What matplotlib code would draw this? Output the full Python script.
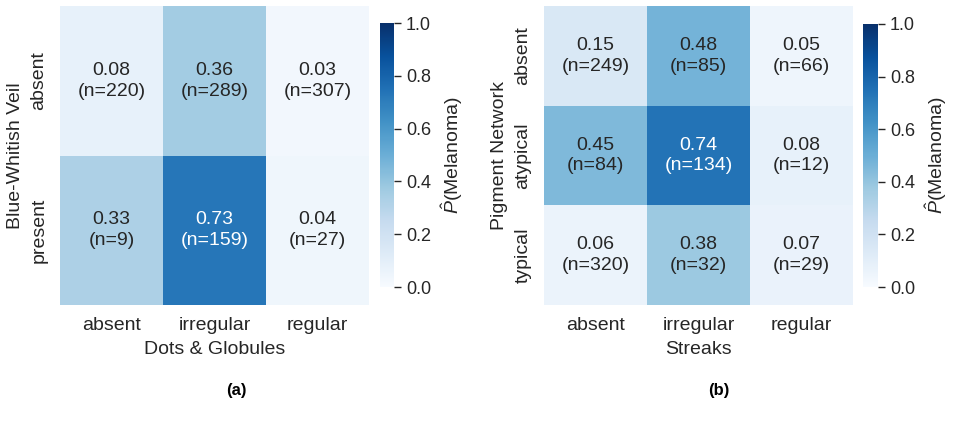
import numpy as np
import matplotlib
matplotlib.use("Agg")
import matplotlib.pyplot as plt
import seaborn as sns

# panel (a)
dg_cols = ["absent", "irregular", "regular"]
bwv_rows = ["absent", "present"]
prob_a = [[0.08, 0.36, 0.03],
          [0.33, 0.73, 0.04]]
n_a = [[220, 289, 307],
       [9, 159, 27]]

# panel (b)
st_cols = ["absent", "irregular", "regular"]
pn_rows = ["absent", "atypical", "typical"]
prob_b = [[0.15, 0.48, 0.05],
          [0.45, 0.74, 0.08],
          [0.06, 0.38, 0.07]]
n_b = [[249, 85, 66],
       [84, 134, 12],
       [320, 32, 29]]

sns.set_theme(style="ticks")
plt.rcParams["font.family"] = ["Liberation Sans", "DejaVu Sans"]
plt.rcParams["mathtext.fontset"] = "custom"
plt.rcParams["mathtext.it"] = "Liberation Sans:italic"
plt.rcParams["mathtext.rm"] = "Liberation Sans"

W, H = 954, 425
fig = plt.figure(figsize=(W / 100, H / 100), dpi=100)


def px(x0, y0, x1, y1):
    return [x0 / W, 1 - y1 / H, (x1 - x0) / W, (y1 - y0) / H]


def panel(ax, cax, prob, n, rows, cols, xlabel, ylabel):
    prob = np.array(prob)
    labels = np.array([["%.2f\n(n=%d)" % (p, c) for p, c in zip(pr, nr)]
                       for pr, nr in zip(prob, n)])
    sns.heatmap(prob, ax=ax, cbar_ax=cax, cmap="Blues", vmin=0, vmax=1,
                annot=labels, fmt="", annot_kws={"fontsize": 14, "linespacing": 1.3},
                xticklabels=cols, yticklabels=rows)
    ax.tick_params(length=0, labelsize=14, pad=9)
    ax.set_yticklabels(rows, rotation=90, va="center")
    ax.set_xlabel(xlabel, fontsize=14, labelpad=5)
    ax.set_ylabel(ylabel, fontsize=14, labelpad=5)
    cax.tick_params(labelsize=13, length=5, width=1, color="#262626")
    cax.set_ylabel(r"$\hat{P}$(Melanoma)", fontsize=14, labelpad=6)
    cax.set_yticks([0, 0.2, 0.4, 0.6, 0.8, 1.0])
    for s in cax.spines.values():
        s.set_visible(False)


ax1 = fig.add_axes(px(60, 6, 369, 305))
cax1 = fig.add_axes(px(380, 23, 394, 287))
panel(ax1, cax1, prob_a, n_a, bwv_rows, dg_cols, "Dots & Globules",
      "Blue-Whitish Veil")

ax2 = fig.add_axes(px(544, 6, 853, 305))
cax2 = fig.add_axes(px(863, 24, 878, 287))
panel(ax2, cax2, prob_b, n_b, pn_rows, st_cols, "Streaks",
      "Pigment Network")

fig.text(236 / W, 1 - 390 / H, "(a)", ha="center", va="center",
         fontsize=12, fontweight="bold", color="black")
fig.text(719 / W, 1 - 390 / H, "(b)", ha="center", va="center",
         fontsize=12, fontweight="bold", color="black")

fig.savefig("out.png", dpi=100)
